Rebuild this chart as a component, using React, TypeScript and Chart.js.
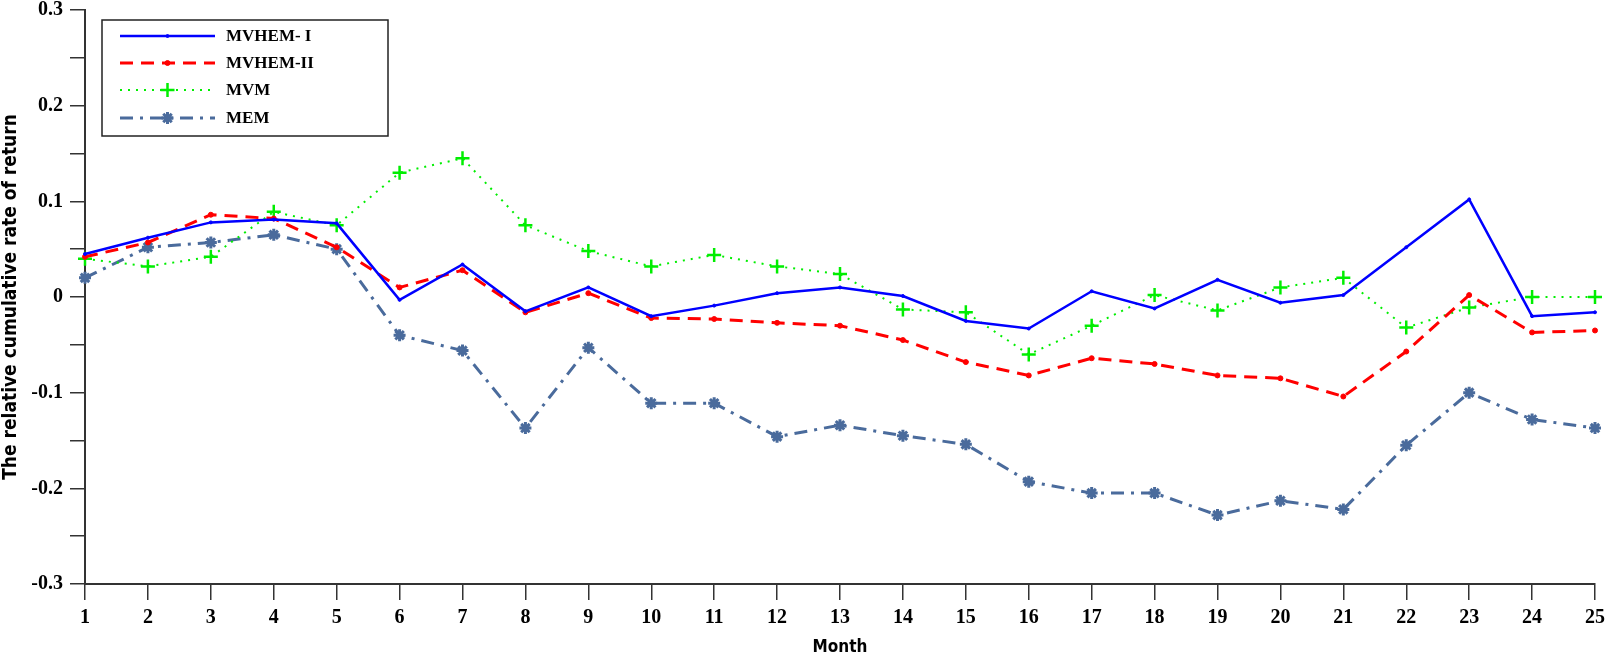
import React, { useEffect, useRef } from 'react'
import { Chart, registerables } from 'chart.js'
import { drawPoint } from 'chart.js/helpers'

Chart.register(...registerables)

const months = ['1', '2', '3', '4', '5', '6', '7', '8', '9', '10', '11', '12', '13',
  '14', '15', '16', '17', '18', '19', '20', '21', '22', '23', '24', '25']

const mvhem1 = [0.045, 0.062, 0.078, 0.081, 0.077, -0.003, 0.034, -0.015, 0.01, -0.02, -0.009, 0.004, 0.01,
  0.001, -0.025, -0.033, 0.006, -0.012, 0.018, -0.006, 0.002, 0.052, 0.102, -0.02, -0.016]

const mvhem2 = [0.042, 0.057, 0.086, 0.082, 0.052, 0.01, 0.028, -0.016, 0.004, -0.022, -0.023, -0.027, -0.03,
  -0.045, -0.068, -0.082, -0.064, -0.07, -0.082, -0.085, -0.104, -0.057, 0.002, -0.037, -0.035]

const mvm = [0.04, 0.032, 0.042, 0.089, 0.075, 0.13, 0.145, 0.075, 0.048, 0.032, 0.044, 0.032, 0.024,
  -0.013, -0.016, -0.06, -0.03, 0.002, -0.014, 0.01, 0.02, -0.032, -0.011, 0.0, 0.0]

const mem = [0.02, 0.052, 0.057, 0.065, 0.05, -0.04, -0.056, -0.137, -0.053, -0.111, -0.111, -0.146, -0.134,
  -0.145, -0.154, -0.193, -0.205, -0.205, -0.228, -0.213, -0.222, -0.155, -0.1, -0.128, -0.137]

const seriesNames = ['MVHEM- I', 'MVHEM-II', 'MVM', 'MEM']

const axisColor = '#333333'
const memColor = '#4a6b9c'

// legend with a frame, drawn inside the plot area like the original figure
const framedLegend = {
  id: 'framedLegend',
  afterDraw(chart: Chart) {
    const { ctx, chartArea } = chart
    const x0 = chartArea.left + 17
    const y0 = chartArea.top + 10
    const w = 286
    const h = 116
    ctx.save()
    ctx.fillStyle = '#ffffff'
    ctx.fillRect(x0, y0, w, h)
    ctx.strokeStyle = '#222222'
    ctx.lineWidth = 1.5
    ctx.setLineDash([])
    ctx.strokeRect(x0, y0, w, h)

    const rows = [16, 43, 70, 98]
    chart.data.datasets.forEach((ds: any, i: number) => {
      const y = y0 + rows[i]
      const lx1 = x0 + 18
      const lx2 = x0 + 113
      ctx.strokeStyle = ds.borderColor
      ctx.lineWidth = ds.borderWidth
      ctx.setLineDash(ds.borderDash || [])
      ctx.beginPath()
      ctx.moveTo(lx1, y)
      ctx.lineTo(lx2, y)
      ctx.stroke()
      ctx.setLineDash([])
      ctx.strokeStyle = ds.pointBorderColor
      ctx.fillStyle = ds.pointBackgroundColor
      ctx.lineWidth = ds.pointBorderWidth
      drawPoint(ctx, { pointStyle: ds.pointStyle, radius: ds.pointRadius, rotation: 0, borderWidth: ds.pointBorderWidth }, (lx1 + lx2) / 2, y)
      ctx.fillStyle = '#000000'
      ctx.font = 'bold 17px "Liberation Serif"'
      ctx.textBaseline = 'middle'
      ctx.textAlign = 'left'
      ctx.fillText(ds.label, x0 + 124, y + 1)
    })
    ctx.restore()
  },
}

export default function App() {
  const canvasRef = useRef<HTMLCanvasElement>(null)

  useEffect(() => {
    if (!canvasRef.current) return
    document.body.style.margin = '0'

    const chart = new Chart(canvasRef.current, {
      type: 'line',
      data: {
        labels: months,
        datasets: [
          {
            label: seriesNames[0],
            data: mvhem1,
            borderColor: '#0000ff',
            borderWidth: 2.5,
            pointStyle: 'circle',
            pointRadius: 1.5,
            pointBorderWidth: 1,
            pointBorderColor: '#0000ff',
            pointBackgroundColor: '#0000ff',
          },
          {
            label: seriesNames[1],
            data: mvhem2,
            borderColor: '#ff0000',
            borderWidth: 3,
            borderDash: [13, 8],
            pointStyle: 'circle',
            pointRadius: 2.5,
            pointBorderWidth: 1,
            pointBorderColor: '#ff0000',
            pointBackgroundColor: '#ff0000',
          },
          {
            label: seriesNames[2],
            data: mvm,
            borderColor: '#00ee00',
            borderWidth: 2,
            borderDash: [2, 6],
            pointStyle: 'cross',
            pointRadius: 7,
            pointBorderWidth: 2.5,
            pointBorderColor: '#00ee00',
            pointBackgroundColor: '#00ee00',
          },
          {
            label: seriesNames[3],
            data: mem,
            borderColor: memColor,
            borderWidth: 3,
            borderDash: [13, 7, 3, 7],
            pointStyle: 'star',
            pointRadius: 6,
            pointBorderWidth: 3,
            pointBorderColor: memColor,
            pointBackgroundColor: memColor,
          },
        ],
      },
      options: {
        animation: false,
        responsive: false,
        layout: { padding: { top: 0, right: 0, left: 0, bottom: 0 } },
        elements: { line: { tension: 0 } },
        plugins: {
          legend: { display: false },
          tooltip: { enabled: false },
        },
        scales: {
          x: {
            offset: false,
            afterFit: (scale: any) => {
              scale.height = 70
              scale.paddingLeft = 0
              scale.paddingRight = 10
            },
            grid: {
              drawOnChartArea: false,
              drawTicks: true,
              tickLength: 16,
              color: axisColor,
              lineWidth: 1.5,
            },
            border: { display: true, color: axisColor, width: 2 },
            ticks: {
              color: '#000000',
              padding: 6,
              maxRotation: 0,
              autoSkip: false,
              font: { family: '"Liberation Serif"', size: 20, weight: 'bold' },
            },
            title: {
              display: true,
              text: 'Month',
              color: '#000000',
              padding: { top: 0, bottom: -4 },
              font: { family: '"DejaVu Sans Condensed", "DejaVu Sans"', size: 17, weight: 'bold' },
            },
          },
          y: {
            min: -0.3,
            max: 0.3,
            afterFit: (scale: any) => {
              scale.width = 85
              scale.paddingTop = 10
              scale.paddingBottom = 0
            },
            grid: {
              drawOnChartArea: false,
              drawTicks: true,
              tickLength: 15,
              color: axisColor,
              lineWidth: 1.5,
            },
            border: { display: true, color: axisColor, width: 2 },
            ticks: {
              stepSize: 0.05,
              color: '#000000',
              padding: 7,
              font: { family: '"Liberation Serif"', size: 20, weight: 'bold' },
              callback: (v: any) => {
                const hundredths = Math.round(Number(v) * 100)
                if (hundredths % 10 !== 0) return ''
                return String(hundredths / 100)
              },
            },
            title: {
              display: true,
              text: 'The relative cumulative rate of return',
              color: '#000000',
              padding: { top: 0, bottom: 0 },
              font: { family: '"DejaVu Sans Condensed", "DejaVu Sans"', size: 19, weight: 'bold' },
            },
          },
        },
      },
      plugins: [framedLegend],
    })

    return () => {
      chart.destroy()
    }
  }, [])

  return (
    <div style={{ width: 1605, height: 654, background: '#ffffff' }}>
      <canvas ref={canvasRef} width={1605} height={654} style={{ display: 'block' }} />
    </div>
  )
}
